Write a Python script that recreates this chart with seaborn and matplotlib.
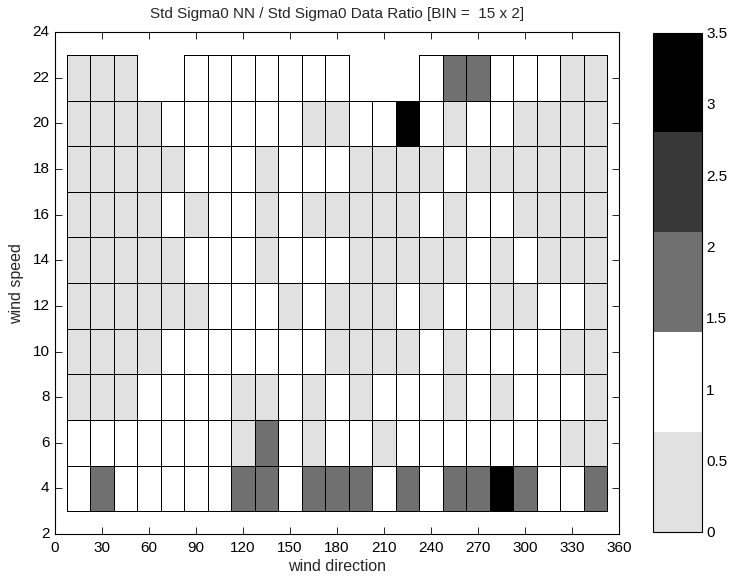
import numpy as np
import pandas as pd
import matplotlib
matplotlib.use("Agg")
import matplotlib.pyplot as plt
from matplotlib.colors import ListedColormap
import seaborn as sns

nan = np.nan

# bin centres
wind_direction = [15, 30, 45, 60, 75, 90, 105, 120, 135, 150, 165, 180,
                  195, 210, 225, 240, 255, 270, 285, 300, 315, 330, 345]
wind_speed = [22, 20, 18, 16, 14, 12, 10, 8, 6, 4]

# ratio values per wind speed row (bins of 0.7)
ratio_22 = [0.5, 0.5, 0.5, nan, nan, 1.0, 1.0, 1.0, 1.0, 1.0, 1.0, 1.0, nan, nan, nan, 1.0, 1.75, 1.75, 1.0, 1.0, 1.0, 0.5, 0.5]
ratio_20 = [0.5, 0.5, 0.5, 0.5, 1.0, 1.0, 1.0, 1.0, 1.0, 1.0, 0.5, 0.5, 1.0, 1.0, 3.15, 1.0, 0.5, 1.0, 1.0, 0.5, 0.5, 0.5, 0.5]
ratio_18 = [0.5, 0.5, 0.5, 0.5, 0.5, 1.0, 1.0, 1.0, 0.5, 1.0, 1.0, 1.0, 0.5, 0.5, 0.5, 0.5, 1.0, 0.5, 0.5, 0.5, 0.5, 0.5, 0.5]
ratio_16 = [0.5, 0.5, 0.5, 0.5, 1.0, 0.5, 1.0, 1.0, 0.5, 1.0, 0.5, 0.5, 0.5, 0.5, 0.5, 1.0, 0.5, 1.0, 1.0, 0.5, 0.5, 0.5, 0.5]
ratio_14 = [0.5, 0.5, 0.5, 0.5, 0.5, 1.0, 1.0, 1.0, 0.5, 1.0, 1.0, 1.0, 0.5, 0.5, 0.5, 0.5, 0.5, 1.0, 0.5, 1.0, 0.5, 0.5, 0.5]
ratio_12 = [0.5, 0.5, 0.5, 0.5, 0.5, 0.5, 1.0, 1.0, 1.0, 0.5, 1.0, 0.5, 0.5, 0.5, 1.0, 0.5, 1.0, 1.0, 0.5, 0.5, 1.0, 1.0, 0.5]
ratio_10 = [0.5, 0.5, 0.5, 0.5, 1.0, 1.0, 1.0, 1.0, 1.0, 1.0, 1.0, 0.5, 0.5, 0.5, 0.5, 1.0, 0.5, 1.0, 1.0, 1.0, 1.0, 0.5, 0.5]
ratio_8 = [0.5, 0.5, 0.5, 1.0, 1.0, 1.0, 1.0, 0.5, 0.5, 1.0, 0.5, 1.0, 0.5, 1.0, 1.0, 1.0, 0.5, 1.0, 0.5, 1.0, 1.0, 1.0, 0.5]
ratio_6 = [1.0, 1.0, 1.0, 1.0, 1.0, 1.0, 1.0, 0.5, 1.75, 1.0, 0.5, 1.0, 1.0, 0.5, 1.0, 1.0, 1.0, 1.0, 1.0, 1.0, 1.0, 0.5, 0.5]
ratio_4 = [1.0, 1.75, 1.0, 1.0, 1.0, 1.0, 1.0, 1.75, 1.75, 1.0, 1.75, 1.75, 1.75, 1.0, 1.75, 1.0, 1.75, 1.75, 3.15, 1.75, 1.0, 1.0, 1.75]

cbar_ticks = [0, 0.5, 1, 1.5, 2, 2.5, 3, 3.5]
x_ticks = list(range(0, 361, 30))
y_ticks = list(range(2, 25, 2))

df = pd.DataFrame([ratio_22, ratio_20, ratio_18, ratio_16, ratio_14, ratio_12,
                   ratio_10, ratio_8, ratio_6, ratio_4],
                  index=wind_speed, columns=wind_direction)

sns.set_style("white")
plt.rcParams['font.family'] = ['Liberation Sans', 'DejaVu Sans']
plt.rcParams['font.size'] = 11

cmap = ListedColormap(["#e1e1e1", "#ffffff", "#707070", "#383838", "#000000"])

fig = plt.figure(figsize=(7.31, 5.78), dpi=100)
ax = fig.add_axes([0.0752, 0.0761, 0.7716, 0.8682])
cax = fig.add_axes([0.893, 0.0796, 0.0675, 0.8640])

sns.heatmap(df, ax=ax, cbar_ax=cax, cmap=cmap, vmin=0, vmax=3.5,
            linewidths=0.6, linecolor="black",
            cbar_kws={"ticks": cbar_ticks})

# no outline for empty bins
mesh = ax.collections[0]
valid = ~np.isnan(df.values.ravel())
mesh.set_edgecolor([(0, 0, 0, 1) if v else (0, 0, 0, 0) for v in valid])

# map data coordinates to heatmap cell coordinates
dx = wind_direction[1] - wind_direction[0]
x0 = wind_direction[0] - dx / 2
dy = wind_speed[0] - wind_speed[1]
y0 = wind_speed[0] + dy / 2

ax.set_xlim((x_ticks[0] - x0) / dx, (x_ticks[-1] - x0) / dx)
ax.set_ylim((y_ticks[0] - y0) / -dy, (y_ticks[-1] - y0) / -dy)
ax.set_xticks([(t - x0) / dx for t in x_ticks])
ax.set_xticklabels([str(t) for t in x_ticks], rotation=0)
ax.set_yticks([(t - y0) / -dy for t in y_ticks])
ax.set_yticklabels([str(t) for t in y_ticks], rotation=0)
ax.set_xlabel("wind direction", fontsize=11.5, labelpad=3)
ax.set_ylabel("wind speed", fontsize=11.5, labelpad=6)
ax.set_title("Std Sigma0 NN / Std Sigma0 Data Ratio [BIN =  15 x 2]", fontsize=11, pad=10)

for s in ax.spines.values():
    s.set_visible(True)
    s.set_color("black")
    s.set_linewidth(0.8)
ax.tick_params(direction="in", length=5, width=0.6, top=True, right=True,
               bottom=True, left=True, labelsize=11, colors="black")
ax.tick_params(axis="x", pad=5)
ax.tick_params(axis="y", pad=4)

cb = mesh.colorbar
cb.outline.set_visible(True)
cb.outline.set_linewidth(0.8)
cb.outline.set_edgecolor("black")
cax.tick_params(direction="in", length=5, width=0.6, left=True, right=True,
                labelsize=11, colors="black", pad=3)
cax.set_yticklabels([f"{t:g}" for t in cbar_ticks])

fig.savefig("out.png", dpi=100)
